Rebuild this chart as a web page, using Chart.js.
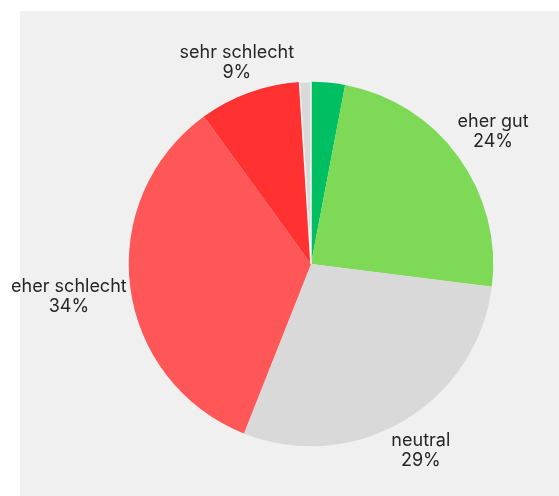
<!DOCTYPE html>
<html>
<head>
<meta charset="utf-8">
<script src="https://cdn.jsdelivr.net/npm/chart.js@4.4.1/dist/chart.umd.min.js"></script>
<style>
  html, body { margin: 0; padding: 0; background: #ffffff; }
  #wrap { position: relative; width: 559px; height: 496px; }
  #panel { position: absolute; left: 20px; top: 11px; right: 0; bottom: 0; background: #f0f0f0; }
  #chart { position: absolute; left: 0; top: 0; }
</style>
</head>
<body>
<div id="wrap">
  <div id="panel"></div>
  <canvas id="chart" width="559" height="496"></canvas>
</div>
<script>
// Antworten, im Uhrzeigersinn ab 12 Uhr
const categories = ['', 'eher gut', 'neutral', 'eher schlecht', 'sehr schlecht', ''];
const shares = [3, 24, 29, 34, 9, 1];
const sliceColors = ['#00bf63', '#7ed957', '#d9d9d9', '#ff5757', '#ff3131', '#d9d9d9'];

const FONT = '18px Inter, "Noto Sans", sans-serif';
// small hand tweaks so the labels sit like in the original layout
const labelNudge = [[0, 0], [1, -10], [-1, 7], [2, 6], [9, -5], [0, 0]];

// labels outside the pie, centred on the slice's mid angle
const outsideLabels = {
  id: 'outsideLabels',
  afterDatasetsDraw(chart) {
    const ctx = chart.ctx;
    const meta = chart.getDatasetMeta(0);
    ctx.save();
    ctx.font = FONT;
    ctx.fillStyle = '#262626';
    ctx.textAlign = 'center';
    ctx.textBaseline = 'middle';
    meta.data.forEach((arc, i) => {
      const name = categories[i];
      if (!name) return;
      const lines = [name, shares[i] + '%'];
      const mid = (arc.startAngle + arc.endAngle) / 2;
      const cos = Math.cos(mid);
      const sin = Math.sin(mid);
      const halfW = Math.max(...lines.map((l) => ctx.measureText(l).width)) / 2;
      const lineH = 20;
      const r = arc.outerRadius + 6;
      const cx = arc.x + cos * r + cos * halfW + labelNudge[i][0];
      const cy = arc.y + sin * r + sin * lineH + labelNudge[i][1];
      lines.forEach((l, k) => {
        ctx.fillText(l, cx, cy + (k - 0.5) * lineH);
      });
    });
    ctx.restore();
  },
};

new Chart(document.getElementById('chart'), {
  type: 'pie',
  data: {
    labels: categories,
    datasets: [{
      data: shares,
      backgroundColor: sliceColors,
      borderColor: '#f4f4f4',
      borderWidth: [0, 0, 0, 0, 0, 1.5],
    }],
  },
  options: {
    responsive: false,
    animation: false,
    layout: { padding: { left: 128, right: 65, top: 81, bottom: 49 } },
    plugins: { legend: { display: false }, tooltip: { enabled: false } },
  },
  plugins: [outsideLabels],
});
</script>
</body>
</html>
